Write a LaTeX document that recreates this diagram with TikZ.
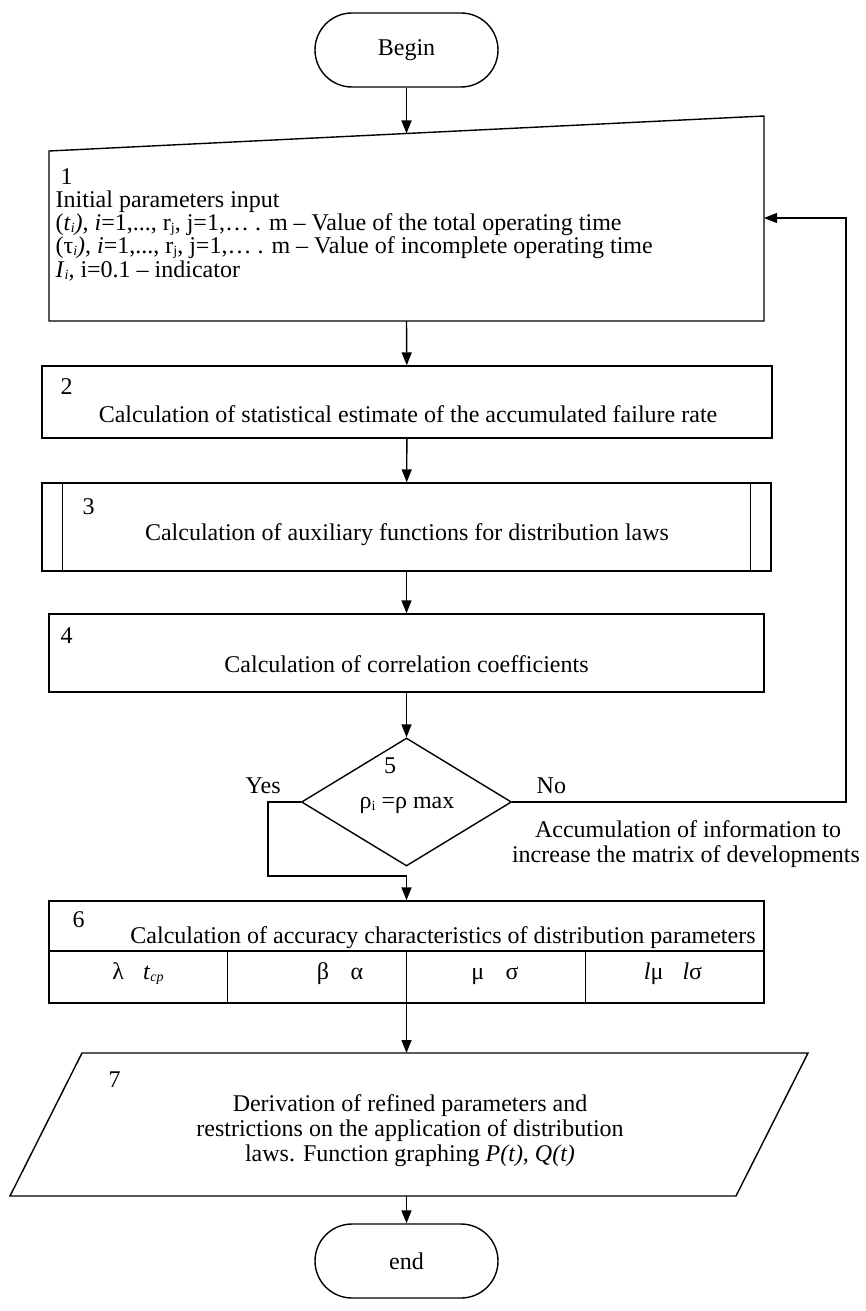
\documentclass[tikz,border=0pt]{standalone}
\usepackage{fontspec}
\setmainfont{Liberation Serif}
\usetikzlibrary{shapes.geometric,arrows.meta}
\newcommand{\bigtxt}{\fontsize{24}{24}\selectfont}
\newcommand{\sbs}[1]{\raisebox{-0.12em}{\fontsize{14}{14}\selectfont #1}}
\tikzset{
  term/.style={draw, rounded corners=37pt, minimum width=183pt, minimum height=74pt, inner sep=0pt, font=\bigtxt},
  proc/.style={draw, inner sep=0pt},
  txt/.style={inner sep=0pt, font=\bigtxt},
  arr/.style={-{Triangle[length=13pt,width=10pt]}},
}
\begin{document}
\begin{tikzpicture}[x=1pt,y=-1pt,line width=1.4pt]
\useasboundingbox (0,0) rectangle (865,1311);

% Begin
\node[term] (begin) at (406.5,50) {Begin};

% Block 1 (manual input)
\coordinate (b1tl) at (49,151);
\coordinate (b1tr) at (764,116);
\coordinate (b1br) at (764,321);
\coordinate (b1bl) at (49,321);
\coordinate (b1top) at (406.5,133.5);
\coordinate (b1in) at (764,218);
\coordinate (b1bot) at (406.5,321);
\draw (b1tl) -- (b1tr) -- (b1br) -- (b1bl) -- cycle;
\node[txt, anchor=base west] (t1n) at (60,184) {1};
\node[txt, anchor=base west] (t1a) at (55,207) {Initial parameters input};
\node[txt, anchor=base west] (t1b) at (55,230) {(\textit{t}\sbs{\textit{i}}\textit{)}, \textit{i}=1,..., r\sbs{j}, j=1,… . m – Value of the total operating time};
\node[txt, anchor=base west] (t1c) at (55,253) {(τ\sbs{\textit{i}}\textit{)}, \textit{i}=1,..., r\sbs{j}, j=1,… . m – Value of incomplete operating time};
\node[txt, anchor=base west] (t1d) at (55,277) {\textit{I}\sbs{\textit{i}}, i=0.1 – indicator};

% Block 2
\node[proc, minimum width=730pt, minimum height=72pt] (b2) at (407,402) {};
\node[txt, anchor=base west] (t2n) at (60,394) {2};
\node[txt, anchor=base] (t2) at (408,422) {Calculation of statistical estimate of the accumulated failure rate};

% Block 3 (predefined process)
\node[proc, minimum width=729pt, minimum height=88pt] (b3) at (406.5,527) {};
\draw ([xshift=21pt]b3.north west) -- ([xshift=21pt]b3.south west);
\draw ([xshift=-21pt]b3.north east) -- ([xshift=-21pt]b3.south east);
\node[txt, anchor=base west] (t3n) at (82,514) {3};
\node[txt, anchor=base] (t3) at (407,540) {Calculation of auxiliary functions for distribution laws};

% Block 4
\node[proc, minimum width=715pt, minimum height=78pt] (b4) at (406.5,653) {};
\node[txt, anchor=base west] (t4n) at (60,643) {4};
\node[txt, anchor=base] (t4) at (406.5,672) {Calculation of correlation coefficients};

% Decision 5
\node[draw, diamond, minimum width=210pt, minimum height=128pt, inner sep=0pt] (d5) at (406.5,802) {};
\node[txt, anchor=base] (t5n) at (390,773) {5};
\node[txt, anchor=base] (t5) at (407,808) {ρ\sbs{i} =ρ max};
\node[txt, anchor=base west] (yes) at (245,793) {Yes};
\node[txt, anchor=base west] (no) at (536,793) {No};
\node[txt, anchor=base] (acc1) at (688,837) {Accumulation of information to};
\node[txt, anchor=base] (acc2) at (686,862) {increase the matrix of developments};

% Block 6 (table)
\node[proc, minimum width=715pt, minimum height=102pt] (b6) at (406.5,952) {};
\coordinate (r6l) at (49,951);
\coordinate (r6r) at (764,951);
\draw (r6l) -- (r6r);
\coordinate (c1t) at (227.75,951); \coordinate (c1b) at (227.75,1003);
\coordinate (c2t) at (406.5,951);  \coordinate (c2b) at (406.5,1003);
\coordinate (c3t) at (585.25,951); \coordinate (c3b) at (585.25,1003);
\draw (c1t) -- (c1b);
\draw (c2t) -- (c2b);
\draw (c3t) -- (c3b);
\node[txt, anchor=base west] (t6n) at (72,927) {6};
\node[txt, anchor=base] (t6) at (443,943) {Calculation of accuracy characteristics of distribution parameters};
\node[txt, anchor=base] (p1) at (138,979) {λ\hspace{0.8em}\textit{t}\sbs{\textit{cp}}};
\node[txt, anchor=base] (p2) at (340,979) {β\hspace{0.9em}α};
\node[txt, anchor=base] (p3) at (495,979) {μ\hspace{0.9em}σ};
\node[txt, anchor=base] (p4) at (673,979) {\textit{l}μ\hspace{0.8em}\textit{l}σ};

% Block 7 (data)
\coordinate (b7tl) at (82,1053);
\coordinate (b7tr) at (808,1053);
\coordinate (b7br) at (736,1196);
\coordinate (b7bl) at (10,1196);
\coordinate (b7top) at (406.5,1053);
\coordinate (b7bot) at (406.5,1196);
\draw (b7tl) -- (b7tr) -- (b7br) -- (b7bl) -- cycle;
\node[txt, anchor=base west] (t7n) at (108,1087) {7};
\node[txt, anchor=base] (t7a) at (410,1111) {Derivation of refined parameters and};
\node[txt, anchor=base] (t7b) at (410,1136) {restrictions on the application of distribution};
\node[txt, anchor=base] (t7c) at (410,1161) {laws. Function graphing \textit{P(t), Q(t)}};

% End
\node[term] (end) at (406.5,1261) {end};

% Connectors
\draw[arr] (begin) -- (b1top);
\draw[arr] (b1bot) -- (b2);
\draw[arr] (b2) -- (b3);
\draw[arr] (b3) -- (b4);
\draw[arr] (b4) -- (d5);
\coordinate (yesL) at (268,876);
\draw[arr] (d5.west) -| (yesL) -| (b6.north);
\coordinate (noR) at (846,802);
\draw[arr] (d5.east) -- (noR) |- (b1in);
\draw[arr] (b6.south) -- (b7top);
\draw[arr] (b7bot) -- (end);
\end{tikzpicture}
\end{document}
